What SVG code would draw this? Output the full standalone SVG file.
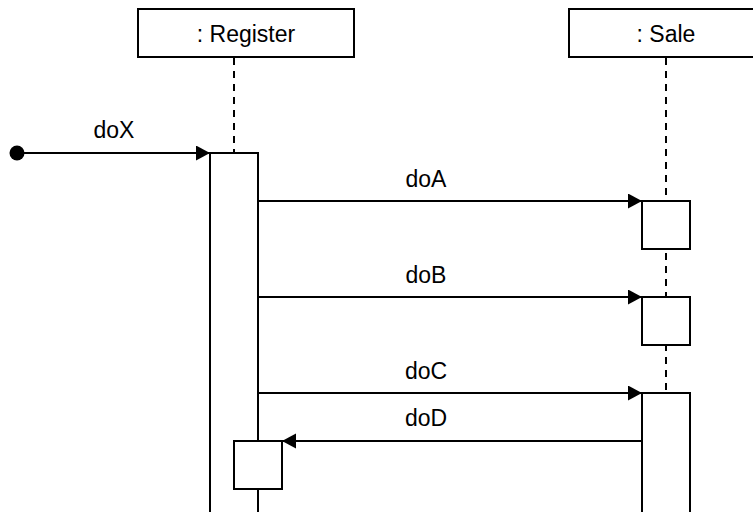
<svg xmlns="http://www.w3.org/2000/svg" width="753" height="512" viewBox="0 0 753 512">
  <style>
    .box { fill: #ffffff; stroke: #000000; stroke-width: 2; }
    .life { fill: none; stroke: #000000; stroke-width: 2; stroke-dasharray: 7 6; }
    .msg { fill: none; stroke: #000000; stroke-width: 2; marker-end: url(#arrow); }
    .lbl { font-family: "Liberation Sans", Arial, sans-serif; font-size: 23px; fill: #000000; text-anchor: middle; }
  </style>
  <defs>
    <marker id="arrow" markerUnits="userSpaceOnUse" markerWidth="16" markerHeight="16" refX="14" refY="7.5" orient="auto">
      <path d="M0,0 L14,7.5 L0,15 Z" fill="#000000"/>
    </marker>
  </defs>
  <rect width="753" height="512" fill="#ffffff"/>

  <g id="lifelines">
    <line class="life" x1="234" y1="58" x2="234" y2="153"/>
    <line class="life" x1="666" y1="58" x2="666" y2="393"/>
  </g>

  <g id="register">
    <rect class="box" x="138" y="9" width="216" height="48"/>
    <text class="lbl" x="246" y="42">: Register</text>
  </g>
  <g id="sale">
    <rect class="box" x="569" y="9" width="194" height="48"/>
    <text class="lbl" x="666" y="42">: Sale</text>
  </g>

  <g id="register-activation">
    <rect class="box" x="210" y="153" width="48" height="370"/>
  </g>
  <g id="sale-activation-a">
    <rect class="box" x="642" y="201" width="48" height="48"/>
  </g>
  <g id="sale-activation-b">
    <rect class="box" x="642" y="297" width="48" height="48"/>
  </g>
  <g id="sale-activation-c">
    <rect class="box" x="642" y="393" width="48" height="130"/>
  </g>
  <g id="register-activation-d">
    <rect class="box" x="234" y="441" width="48" height="48"/>
  </g>

  <g id="connectors">
    <circle cx="17" cy="153" r="7.5" fill="#000000"/>
    <line class="msg" x1="17" y1="153" x2="210" y2="153"/>
    <line class="msg" x1="258" y1="201" x2="642" y2="201"/>
    <line class="msg" x1="258" y1="297" x2="642" y2="297"/>
    <line class="msg" x1="258" y1="393" x2="642" y2="393"/>
    <line class="msg" x1="642" y1="441" x2="282" y2="441"/>
    <text class="lbl" x="114" y="138">doX</text>
    <text class="lbl" x="426" y="187">doA</text>
    <text class="lbl" x="426" y="283">doB</text>
    <text class="lbl" x="426" y="379">doC</text>
    <text class="lbl" x="426" y="426">doD</text>
  </g>
</svg>
